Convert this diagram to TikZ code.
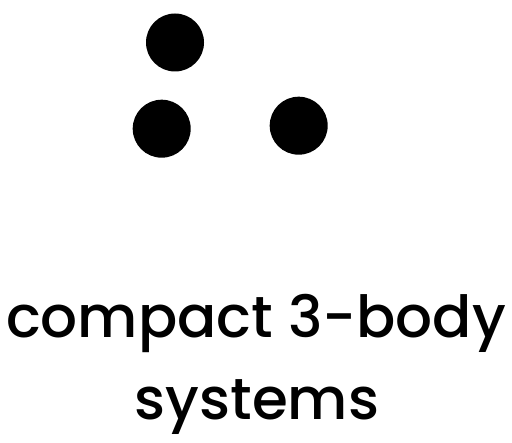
\documentclass[tikz,border=0pt]{standalone}
\usepackage{fontspec}
\setmainfont{Poppins Medium}
\usepackage{tikz}
\tikzset{body/.style={circle,fill=black,inner sep=0pt,minimum size=58pt},
  caption/.style={font=\fontsize{58}{82}\selectfont,anchor=base,inner sep=0pt}}
\begin{document}
\begin{tikzpicture}[x=1pt,y=-1pt,line width=.35pt]
\useasboundingbox (0,0) rectangle (512,443);
\node[body] (b1) at (175,42.5) {};
\node[body] (b2) at (161.7,128.7) {};
\node[body] (b3) at (298.7,125.7) {};
\node[caption] (l1) at (256,338) {compact 3-body};
\node[caption] (l2) at (257,420) {systems};
\end{tikzpicture}
\end{document}
